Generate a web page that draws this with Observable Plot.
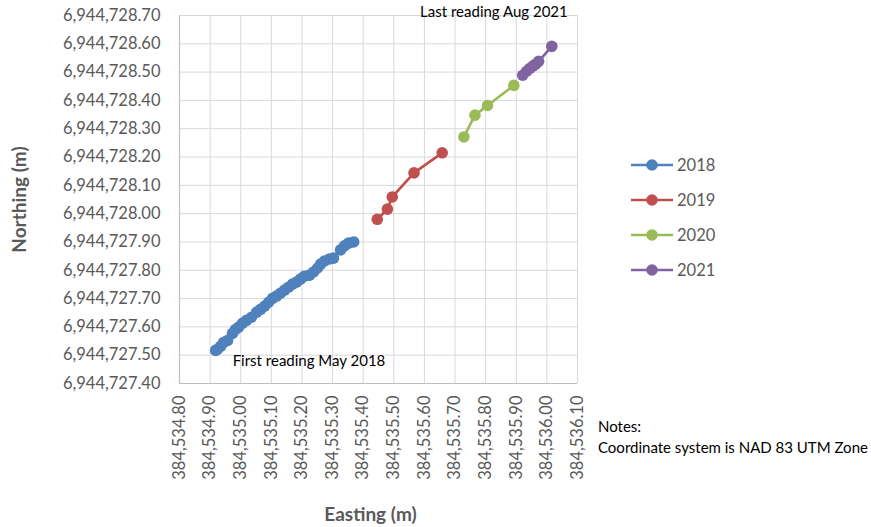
<!DOCTYPE html>
<html>
<head>
<meta charset="utf-8">
<script src="https://cdn.jsdelivr.net/npm/d3@7"></script>
<script src="https://cdn.jsdelivr.net/npm/@observablehq/plot@0.6"></script>
<style>
  html, body { margin: 0; padding: 0; background: #fff; }
  #wrap { position: relative; width: 871px; height: 527px; font-family: Lato, "Open Sans", sans-serif; }
  #legend { position: absolute; left: 630px; top: 147px; color: #595959; font-size: 16.5px; }
  .li { display: flex; align-items: center; height: 35px; }
  .li svg { margin-right: 3px; }
  #notes { position: absolute; left: 598px; top: 416px; color: #000; font-size: 15px; line-height: 21px; }
</style>
</head>
<body>
<div id="wrap">
  <div id="chart"></div>
  <div id="legend"></div>
  <div id="notes">Notes:<br>Coordinate system is NAD 83 UTM Zone</div>
</div>
<script>
const seriesNames = ["2018", "2019", "2020", "2021"];
const seriesColors = ["#4F81BD", "#C0504D", "#9BBB59", "#8064A2"];

const east2018 = [384534.918, 384534.924, 384534.934, 384534.944, 384534.957, 384534.973, 384534.983, 384534.993,
  384535.006, 384535.019, 384535.035, 384535.052, 384535.065, 384535.078, 384535.091, 384535.104, 384535.117,
  384535.130, 384535.143, 384535.156, 384535.169, 384535.182, 384535.195, 384535.208, 384535.225, 384535.238,
  384535.251, 384535.261, 384535.274, 384535.290, 384535.303, 384535.326, 384535.339, 384535.352, 384535.369];
const north2018 = [6944727.517, 6944727.521, 6944727.531, 6944727.545, 6944727.552, 6944727.577, 6944727.591, 6944727.599,
  6944727.613, 6944727.623, 6944727.634, 6944727.652, 6944727.662, 6944727.673, 6944727.687, 6944727.701, 6944727.709,
  6944727.719, 6944727.730, 6944727.740, 6944727.751, 6944727.758, 6944727.769, 6944727.779, 6944727.783, 6944727.794,
  6944727.808, 6944727.822, 6944727.833, 6944727.840, 6944727.843, 6944727.872, 6944727.886, 6944727.896, 6944727.900];

const east2019 = [384535.446, 384535.479, 384535.495, 384535.566, 384535.658];
const north2019 = [6944727.980, 6944728.016, 6944728.059, 6944728.144, 6944728.215];

const east2020 = [384535.729, 384535.765, 384535.806, 384535.892];
const north2020 = [6944728.271, 6944728.348, 6944728.382, 6944728.453];

const east2021 = [384535.921, 384535.934, 384535.944, 384535.954, 384535.963, 384535.973, 384536.016];
const north2021 = [6944728.489, 6944728.503, 6944728.513, 6944728.521, 6944728.528, 6944728.538, 6944728.591];

const xTicks = [384534.8, 384534.9, 384535.0, 384535.1, 384535.2, 384535.3, 384535.4, 384535.5, 384535.6, 384535.7, 384535.8, 384535.9, 384536.0, 384536.1];
const yTicks = [6944727.4, 6944727.5, 6944727.6, 6944727.7, 6944727.8, 6944727.9, 6944728.0, 6944728.1, 6944728.2, 6944728.3, 6944728.4, 6944728.5, 6944728.6, 6944728.7];

const firstLabel = "First reading May 2018";
const lastLabel = "Last reading Aug 2021";

const allE = [east2018, east2019, east2020, east2021];
const allN = [north2018, north2019, north2020, north2021];
const data = [];
seriesNames.forEach((s, i) => {
  allE[i].forEach((e, j) => data.push({series: s, e, n: allN[i][j]}));
});
const firstPt = data.filter(d => d.series === "2018")[0];
const lastArr = data.filter(d => d.series === "2021");
const lastPt = lastArr[lastArr.length - 1];

const fmt = d3.format(",.2f");
const xDom = [xTicks[0], xTicks[xTicks.length - 1]];
const yDom = [yTicks[0], yTicks[yTicks.length - 1]];

const chart = Plot.plot({
  width: 871,
  height: 527,
  marginLeft: 179,
  marginRight: 294,
  marginTop: 15,
  marginBottom: 144,
  style: {fontFamily: "Lato, 'Open Sans', sans-serif", fontSize: "16.5px", color: "#595959", background: "#fff"},
  x: {domain: xDom, ticks: xTicks, tickFormat: fmt},
  y: {domain: yDom, ticks: yTicks, tickFormat: fmt},
  color: {domain: seriesNames, range: seriesColors},
  marks: [
    Plot.gridX(xTicks, {stroke: "#d9d9d9", strokeOpacity: 1, strokeWidth: 1}),
    Plot.gridY(yTicks, {stroke: "#d9d9d9", strokeOpacity: 1, strokeWidth: 1}),
    Plot.ruleX([xDom[0]], {stroke: "#bfbfbf", strokeWidth: 1.2}),
    Plot.ruleY([yDom[0]], {stroke: "#bfbfbf", strokeWidth: 1.2}),
    Plot.axisX(xTicks, {tickSize: 0, tickPadding: 12, tickRotate: -90, tickFormat: fmt, fontSize: 16.5, fill: "#595959",
      label: "Easting (m)", labelAnchor: "center", labelOffset: 137, labelArrow: "none"}),
    Plot.axisY(yTicks, {tickSize: 0, tickPadding: 19, tickFormat: fmt, fontSize: 16.5, fill: "#595959",
      label: "Northing (m)", labelAnchor: "center", labelOffset: 167, labelArrow: "none"}),
    Plot.line(data, {x: "e", y: "n", z: "series", stroke: "series", strokeWidth: 2.7}),
    Plot.dot(data, {x: "e", y: "n", fill: "series", r: 5.8}),
    Plot.text([firstPt], {x: "e", y: "n", text: () => firstLabel, textAnchor: "start", dx: 17, dy: 11, fontSize: 15, fill: "#000"}),
    Plot.text([lastPt], {x: "e", y: "n", text: () => lastLabel, textAnchor: "end", dx: 16, dy: -34, fontSize: 15, fill: "#000"})
  ]
});
document.getElementById("chart").appendChild(chart);

// style axis labels bold
chart.querySelectorAll("[aria-label='x-axis label'] text, [aria-label='y-axis label'] text").forEach(t => {
  t.setAttribute("font-weight", "bold");
  t.setAttribute("font-size", "19");
  t.setAttribute("fill", "#595959");
});
chart.querySelectorAll("[aria-label='x-axis label'] text").forEach(t => {
  t.setAttribute("dx", "-8");
});

// legend
const legend = document.getElementById("legend");
seriesNames.forEach((s, i) => {
  const row = document.createElement("div");
  row.className = "li";
  row.innerHTML = `<svg width="44" height="14"><line x1="1" y1="7" x2="43" y2="7" stroke="${seriesColors[i]}" stroke-width="2.7"/><circle cx="22" cy="7" r="5.8" fill="${seriesColors[i]}"/></svg><span>${s}</span>`;
  legend.appendChild(row);
});
</script>
</body>
</html>
